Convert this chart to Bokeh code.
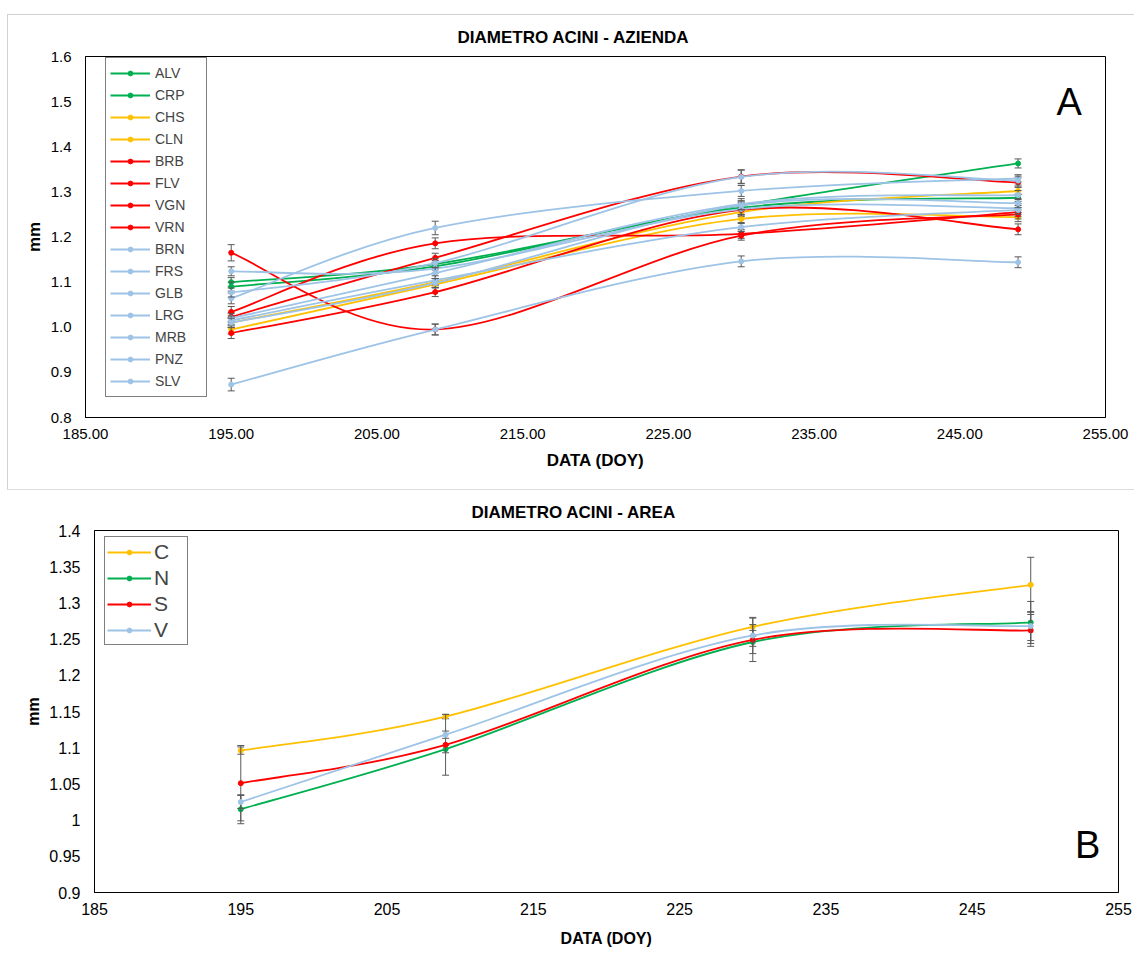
from bokeh.plotting import figure
from bokeh.models import ColumnDataSource, Legend, LegendItem, FixedTicker, Label
from bokeh.layouts import column
from bokeh.embed import file_html
from bokeh.resources import INLINE

FONT = "Liberation Sans"

# ---------------- data : panel A ----------------
doy = [195, 209, 230, 249]

names_a = ["ALV", "CRP", "CHS", "CLN", "BRB", "FLV", "VGN", "VRN",
           "BRN", "FRS", "GLB", "LRG", "MRB", "PNZ", "SLV"]
ALV = [1.100, 1.140, 1.270, 1.363]
CRP = [1.090, 1.135, 1.265, 1.287]
CHS = [1.010, 1.100, 1.255, 1.302]
CLN = [0.995, 1.095, 1.240, 1.244]
BRB = [1.023, 1.154, 1.334, 1.321]
FLV = [1.034, 1.186, 1.207, 1.255]
VGN = [1.165, 0.995, 1.203, 1.250]
VRN = [0.987, 1.078, 1.260, 1.217]
BRN = [1.064, 1.220, 1.302, 1.330]
FRS = [1.124, 1.130, 1.262, 1.264]
GLB = [1.077, 1.142, 1.333, 1.325]
LRG = [1.020, 1.120, 1.273, 1.293]
MRB = [1.015, 1.104, 1.222, 1.260]
PNZ = [1.010, 1.098, 1.270, 1.275]
SLV = [0.873, 0.995, 1.146, 1.144]
series_a = [ALV, CRP, CHS, CLN, BRB, FLV, VGN, VRN, BRN, FRS, GLB, LRG, MRB, PNZ, SLV]

err_ALV = [0.010, 0.008, 0.010, 0.010]
err_CRP = [0.010, 0.008, 0.010, 0.008]
err_CHS = [0.010, 0.008, 0.010, 0.008]
err_CLN = [0.010, 0.008, 0.010, 0.010]
err_BRB = [0.010, 0.010, 0.015, 0.010]
err_FLV = [0.012, 0.012, 0.010, 0.010]
err_VGN = [0.018, 0.012, 0.010, 0.010]
err_VRN = [0.012, 0.010, 0.010, 0.012]
err_BRN = [0.012, 0.015, 0.012, 0.008]
err_FRS = [0.010, 0.010, 0.015, 0.010]
err_GLB = [0.010, 0.010, 0.015, 0.010]
err_LRG = [0.010, 0.012, 0.012, 0.010]
err_MRB = [0.010, 0.010, 0.010, 0.010]
err_PNZ = [0.010, 0.010, 0.010, 0.010]
err_SLV = [0.014, 0.012, 0.012, 0.012]
errs_a = [err_ALV, err_CRP, err_CHS, err_CLN, err_BRB, err_FLV, err_VGN, err_VRN,
          err_BRN, err_FRS, err_GLB, err_LRG, err_MRB, err_PNZ, err_SLV]

GREEN, YELLOW, RED, LBLUE = "#00B050", "#FFC000", "#FF0000", "#9DC3E6"
colors_a = [GREEN, GREEN, YELLOW, YELLOW, RED, RED, RED, RED,
            LBLUE, LBLUE, LBLUE, LBLUE, LBLUE, LBLUE, LBLUE]

xticks_a = [185, 195, 205, 215, 225, 235, 245, 255]
xlabels_a = ["185.00", "195.00", "205.00", "215.00", "225.00", "235.00", "245.00", "255.00"]
yticks_a = [0.8, 0.9, 1.0, 1.1, 1.2, 1.3, 1.4, 1.5, 1.6]
ylabels_a = ["0.8", "0.9", "1.0", "1.1", "1.2", "1.3", "1.4", "1.5", "1.6"]

# ---------------- data : panel B ----------------
names_b = ["C", "N", "S", "V"]
C = [1.096, 1.143, 1.267, 1.325]
N = [1.015, 1.098, 1.246, 1.273]
S = [1.051, 1.104, 1.249, 1.262]
V = [1.025, 1.118, 1.255, 1.268]
series_b = [C, N, S, V]
err_C = [0.005, 0.003, 0.013, 0.038]
err_N = [0.020, 0.005, 0.016, 0.029]
err_S = [0.052, 0.042, 0.030, 0.022]
err_V = [0.009, 0.005, 0.015, 0.020]
errs_b = [err_C, err_N, err_S, err_V]
colors_b = [YELLOW, GREEN, RED, LBLUE]

xticks_b = [185, 195, 205, 215, 225, 235, 245, 255]
xlabels_b = ["185", "195", "205", "215", "225", "235", "245", "255"]
yticks_b = [0.9, 0.95, 1.0, 1.05, 1.1, 1.15, 1.2, 1.25, 1.3, 1.35, 1.4]
ylabels_b = ["0.9", "0.95", "1", "1.05", "1.1", "1.15", "1.2", "1.25", "1.3", "1.35", "1.4"]


def smooth_source(xs, ys):
    """Excel-like smoothed line: cubic Bezier segments through the data points."""
    n = len(xs)
    d = dict(x0=[], y0=[], x1=[], y1=[], cx0=[], cy0=[], cx1=[], cy1=[])
    for i in range(n - 1):
        a, b = max(i - 1, 0), min(i + 2, n - 1)
        d["x0"].append(xs[i]); d["y0"].append(ys[i])
        d["x1"].append(xs[i + 1]); d["y1"].append(ys[i + 1])
        d["cx0"].append(xs[i] + (xs[i + 1] - xs[a]) / 6.0)
        d["cy0"].append(ys[i] + (ys[i + 1] - ys[a]) / 6.0)
        d["cx1"].append(xs[i + 1] - (xs[b] - xs[i]) / 6.0)
        d["cy1"].append(ys[i + 1] - (ys[b] - ys[i]) / 6.0)
    return ColumnDataSource(d)


def style(p, xt, xl, yt, yl, tick_size, lab_size, title_size):
    p.frame_align = False
    p.grid.visible = False
    p.outline_line_color = "black"
    p.outline_line_width = 1
    p.background_fill_color = "white"
    p.border_fill_color = "white"
    p.xaxis.ticker = FixedTicker(ticks=xt)
    p.yaxis.ticker = FixedTicker(ticks=yt)
    p.xaxis.major_label_overrides = {t: l for t, l in zip(xt, xl)}
    p.yaxis.major_label_overrides = {t: l for t, l in zip(yt, yl)}
    for ax in (p.xaxis, p.yaxis):
        ax.axis_line_color = "black"
        ax.major_tick_line_color = None
        ax.minor_tick_line_color = None
        ax.major_tick_out = 0
        ax.major_tick_in = 0
        ax.major_label_text_font = FONT
        ax.major_label_text_font_size = tick_size
        ax.major_label_text_color = "black"
        ax.axis_label_text_font = FONT
        ax.axis_label_text_font_size = lab_size
        ax.axis_label_text_font_style = "bold"
        ax.axis_label_text_color = "black"
    p.xaxis.axis_label = "DATA (DOY)"
    p.yaxis.axis_label = "mm"
    p.title.align = "left"
    p.title.text_font = FONT
    p.title.text_font_size = title_size
    p.title.text_font_style = "bold"
    p.title.text_color = "black"


def draw_series(p, xs, ys, es, color, lw):
    src = smooth_source(xs, ys)
    rl = p.bezier(x0="x0", y0="y0", x1="x1", y1="y1", cx0="cx0", cy0="cy0",
                  cx1="cx1", cy1="cy1", source=src, line_color=color, line_width=lw)
    lo = [y - e for y, e in zip(ys, es)]
    hi = [y + e for y, e in zip(ys, es)]
    p.segment(x0=xs, y0=lo, x1=xs, y1=hi, line_color="#595959", line_width=1)
    p.scatter(x=xs + xs, y=lo + hi, marker="dash", size=7, line_color="#595959", line_width=1)
    rm = p.scatter(x=xs, y=ys, marker="circle", size=5, fill_color=color, line_color=color)
    return [rl, rm]


# ---------------- panel A ----------------
pa = figure(width=1126, height=474, x_range=(185, 255), y_range=(0.8, 1.6),
            output_backend="svg", toolbar_location=None,
            min_border_left=77, min_border_right=29, min_border_top=40, min_border_bottom=72,
            margin=(15, 0, 0, 8), title="DIAMETRO ACINI - AZIENDA")
pa.styles = {"outline": "1px solid #d0d0d0"}
style(pa, xticks_a, xlabels_a, yticks_a, ylabels_a, "15px", "17px", "17px")
pa.title.offset = 372
pa.title.standoff = 20
pa.xaxis.major_label_standoff = 11
pa.xaxis.axis_label_standoff = 9
pa.yaxis.major_label_standoff = 14
pa.yaxis.axis_label_standoff = 4

items_a = []
for name, ys, es, col in zip(names_a, series_a, errs_a, colors_a):
    rs = draw_series(pa, doy, ys, es, col, 1.8)
    items_a.append(LegendItem(label=name, renderers=rs))

leg_a = Legend(items=items_a, location=(20, 20), margin=0, padding=4, spacing=0,
               label_height=22, glyph_height=12, glyph_width=40, label_width=47,
               label_standoff=5, label_text_font=FONT, label_text_font_size="14px",
               border_line_color="black", border_line_width=1,
               background_fill_color="white", background_fill_alpha=1.0)
pa.add_layout(leg_a)
pa.add_layout(Label(x=252.5, y=1.50, text="A", text_font=FONT, text_font_size="38px",
                    text_align="center", text_baseline="middle", text_color="black"))

# ---------------- panel B ----------------
pb = figure(width=1134, height=471, x_range=(185, 255), y_range=(0.9, 1.4),
            output_backend="svg", toolbar_location=None,
            min_border_left=94, min_border_right=16, min_border_top=41, min_border_bottom=68,
            title="DIAMETRO ACINI - AREA")
style(pb, xticks_b, xlabels_b, yticks_b, ylabels_b, "16px", "16px", "17px")
pb.title.offset = 377
pb.title.standoff = 18
pb.xaxis.major_label_standoff = 10
pb.xaxis.axis_label_standoff = 12
pb.yaxis.major_label_standoff = 14
pb.yaxis.axis_label_standoff = 4

items_b = []
for name, ys, es, col in zip(names_b, series_b, errs_b, colors_b):
    rs = draw_series(pb, doy, ys, es, col, 1.8)
    items_b.append(LegendItem(label=name, renderers=rs))

leg_b = Legend(items=items_b, location=(10, 247), margin=0, padding=2, spacing=1,
               label_height=25, glyph_height=12, glyph_width=44, label_width=31,
               label_standoff=3, label_text_font=FONT, label_text_font_size="21px",
               border_line_color="black", border_line_width=1,
               background_fill_color="white", background_fill_alpha=1.0)
pb.add_layout(leg_b)
pb.add_layout(Label(x=252.9, y=0.965, text="B", text_font=FONT, text_font_size="38px",
                    text_align="center", text_baseline="middle", text_color="black"))

layout = column(pa, pb, spacing=0)
open("out.html", "w").write(file_html(layout, INLINE))
